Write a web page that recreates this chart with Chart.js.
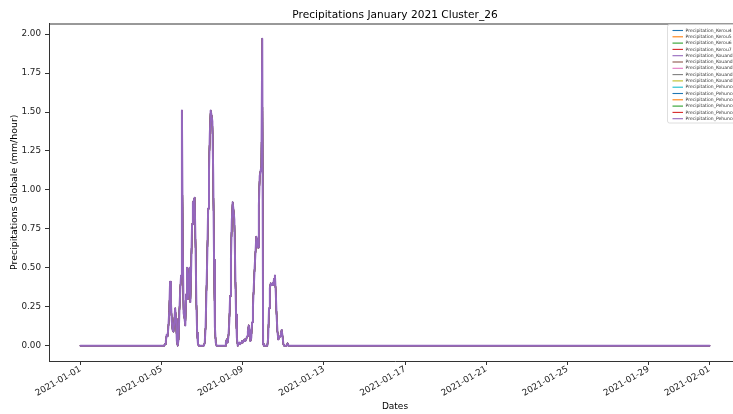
<!DOCTYPE html>
<html>
<head>
<meta charset="utf-8">
<script src="https://cdn.jsdelivr.net/npm/chart.js@4/dist/chart.umd.min.js"></script>
<style>
  html, body { margin: 0; padding: 0; background: #fff; overflow: hidden; }
  #wrap { width: 741px; height: 414px; }
</style>
</head>
<body>
<div id="wrap"><canvas id="c" width="741" height="414"></canvas></div>
<script>
// Hourly precipitation, January 2021 (hours since 2021-01-01 00:00, mm/hour)
const hours = [0, 99, 100, 101, 102, 103, 104, 105, 106, 107, 108, 109, 110, 111, 112, 113, 114, 115,
  116, 117, 118, 119, 120, 121, 122, 123, 124, 125, 126, 127, 128, 129, 130, 131, 132, 133, 134, 135,
  136, 137, 138, 139, 140, 146, 147, 148, 149, 150, 151, 152, 153, 154, 155, 156, 157, 158, 159, 160,
  161, 171, 172, 173, 174, 175, 176, 177, 178, 179, 180, 181, 182, 183, 184, 185, 186, 187, 188, 189,
  190, 191, 192, 193, 194, 195, 196, 197, 198, 199, 200, 201, 202, 203, 204, 205, 206, 207, 208, 209,
  210, 211, 212, 213, 214, 215, 216, 217, 221, 222, 223, 224, 225, 226, 227, 228, 229, 230, 231, 232,
  233, 234, 235, 236, 237, 238, 239, 240, 241, 244, 245, 246, 744];
const precip = [0, 0, 0.01, 0.03, 0.07, 0.06, 0.12, 0.22, 0.41, 0.28, 0.16, 0.10, 0.09, 0.16, 0.24, 0.17, 0.03, 0.00,
  0.04, 0.22, 0.36, 0.45, 1.51, 0.62, 0.21, 0.18, 0.13, 0.33, 0.50, 0.30, 0.41, 0.50, 0.28, 0.52, 0.78, 0.92, 0.93, 0.95,
  0.68, 0.30, 0.08, 0.01, 0.00, 0.00, 0.02, 0.12, 0.35, 0.58, 0.88, 1.12, 1.36, 1.51, 1.48, 1.44, 1.10, 0.55, 0.12, 0.02,
  0.00, 0.00, 0.02, 0.04, 0.02, 0.06, 0.15, 0.32, 0.56, 0.80, 0.92, 0.87, 0.81, 0.50, 0.20, 0.05, 0.00, 0.01, 0.02, 0.01,
  0.02, 0.03, 0.02, 0.03, 0.04, 0.03, 0.04, 0.06, 0.09, 0.13, 0.10, 0.03, 0.05, 0.15, 0.25, 0.38, 0.50, 0.60, 0.70, 0.66,
  0.63, 0.90, 1.09, 1.12, 1.15, 1.97, 0.01, 0.00, 0.00, 0.05, 0.24, 0.37, 0.40, 0.39, 0.40, 0.39, 0.43, 0.45, 0.34, 0.19,
  0.09, 0.04, 0.05, 0.06, 0.08, 0.10, 0.06, 0.01, 0.00, 0.00, 0.015, 0.00, 0.00];

const stations = ['Precipitation_Kerou4', 'Precipitation_Kerou5', 'Precipitation_Kerou6', 'Precipitation_Kerou7',
  'Precipitation_Kouande1', 'Precipitation_Kouande2', 'Precipitation_Kouande3', 'Precipitation_Kouande4',
  'Precipitation_Kouande5', 'Precipitation_Pehunco1', 'Precipitation_Pehunco2', 'Precipitation_Pehunco3',
  'Precipitation_Pehunco4', 'Precipitation_Pehunco5', 'Precipitation_Pehunco6'];

// Date ticks, as day offsets from 2021-01-01
const tickDays = [0, 4, 8, 12, 16, 20, 24, 28, 31];
const tickLabels = ['2021-01-01', '2021-01-05', '2021-01-09', '2021-01-13', '2021-01-17',
  '2021-01-21', '2021-01-25', '2021-01-29', '2021-02-01'];

const palette = ['#1f77b4', '#ff7f0e', '#2ca02c', '#d62728', '#9467bd',
  '#8c564b', '#e377c2', '#7f7f7f', '#bcbd22', '#17becf'];

const FONT = 'DejaVu Sans';
const points = hours.map((h, i) => ({ x: h / 24, y: precip[i] }));
const last = stations.length - 1;

// every station carries the same series; the last one is drawn on top
const datasets = stations.map((name, i) => ({
  label: name,
  data: points,
  borderColor: palette[i % 10],
  backgroundColor: palette[i % 10],
  borderWidth: i === last ? 2 : 1.2,
  borderJoinStyle: 'round',
  borderCapStyle: 'round',
  pointRadius: 0,
  fill: false,
  tension: 0,
  order: stations.length - i
}));

// Data span and 5% margins on both axes
const dMin = 0, dMax = 31;
const yDataMax = Math.max(...precip);
const xPad = (dMax - dMin) * 0.05;
const yPad = yDataMax * 0.05;

const framePlugin = {
  id: 'frame',
  afterDraw(chart) {
    const { ctx, chartArea: a } = chart;
    ctx.save();
    // top and right spines
    ctx.strokeStyle = '#333';
    ctx.lineWidth = 1;
    ctx.beginPath();
    ctx.moveTo(a.left, a.top + 0.5);
    ctx.lineTo(a.right, a.top + 0.5);
    ctx.moveTo(a.right - 0.5, a.top);
    ctx.lineTo(a.right - 0.5, a.bottom);
    ctx.stroke();

    // title
    ctx.fillStyle = '#000';
    ctx.font = '10.6px "' + FONT + '"';
    ctx.textAlign = 'center';
    ctx.textBaseline = 'middle';
    ctx.fillText('Precipitations January 2021 Cluster_26', (a.left + a.right) / 2, 15);

    // legend box, upper right
    const lx = 667.5, ly = 24.5, lw = 90, step = 6.3;
    const lh = step * stations.length + 4;
    ctx.fillStyle = 'rgba(255,255,255,0.8)';
    ctx.strokeStyle = '#d6d6d6';
    ctx.lineWidth = 0.8;
    ctx.beginPath();
    ctx.roundRect(lx, ly, lw, lh, 2);
    ctx.fill();
    ctx.stroke();
    ctx.font = '4.5px "' + FONT + '"';
    ctx.textAlign = 'left';
    ctx.textBaseline = 'middle';
    chart.data.datasets.forEach((ds, i) => {
      const yy = ly + 6 + step * i;
      ctx.strokeStyle = ds.borderColor;
      ctx.lineWidth = 1.1;
      ctx.beginPath();
      ctx.moveTo(lx + 5, yy);
      ctx.lineTo(lx + 15.5, yy);
      ctx.stroke();
      ctx.fillStyle = '#333';
      ctx.fillText(ds.label, lx + 18, yy);
    });
    ctx.restore();
  }
};

new Chart(document.getElementById('c'), {
  type: 'line',
  data: { datasets },
  options: {
    responsive: false,
    animation: false,
    devicePixelRatio: 1,
    layout: { padding: { top: 23.5, right: 0, left: 0, bottom: 0 } },
    plugins: {
      legend: { display: false },
      title: { display: false },
      tooltip: { enabled: false }
    },
    scales: {
      x: {
        type: 'linear',
        min: dMin - xPad,
        max: dMax + xPad,
        afterBuildTicks(scale) { scale.ticks = tickDays.map(v => ({ value: v })); },
        afterFit(scale) { scale.height = 53; },
        ticks: {
          autoSkip: false,
          maxRotation: 30,
          minRotation: 30,
          padding: -1,
          color: '#222',
          font: { family: FONT, size: 8.8 },
          callback: (v) => {
            const k = tickDays.indexOf(v);
            return k >= 0 ? tickLabels[k] : '';
          }
        },
        grid: { drawOnChartArea: false, drawTicks: true, tickLength: 4, color: '#333', lineWidth: 1 },
        border: { display: true, color: '#333', width: 1 },
        title: { display: true, text: 'Dates', color: '#000', font: { family: FONT, size: 9 }, padding: { top: 0, bottom: 2 } }
      },
      y: {
        type: 'linear',
        min: -yPad,
        max: yDataMax + yPad,
        afterBuildTicks(scale) {
          const t = [];
          for (let v = 0; v <= 2.0001; v += 0.25) t.push({ value: Math.round(v * 100) / 100 });
          scale.ticks = t;
        },
        afterFit(scale) { scale.width = 49; },
        ticks: {
          padding: 4,
          color: '#222',
          font: { family: FONT, size: 8.8 },
          callback: (v) => Number(v).toFixed(2)
        },
        grid: { drawOnChartArea: false, drawTicks: true, tickLength: 4, color: '#333', lineWidth: 1 },
        border: { display: true, color: '#333', width: 1 },
        title: { display: true, text: 'Precipitations Globale (mm/hour)', color: '#000', font: { family: FONT, size: 9.4 }, padding: { top: 9, bottom: 0 } }
      }
    }
  },
  plugins: [framePlugin]
});
</script>
</body>
</html>
